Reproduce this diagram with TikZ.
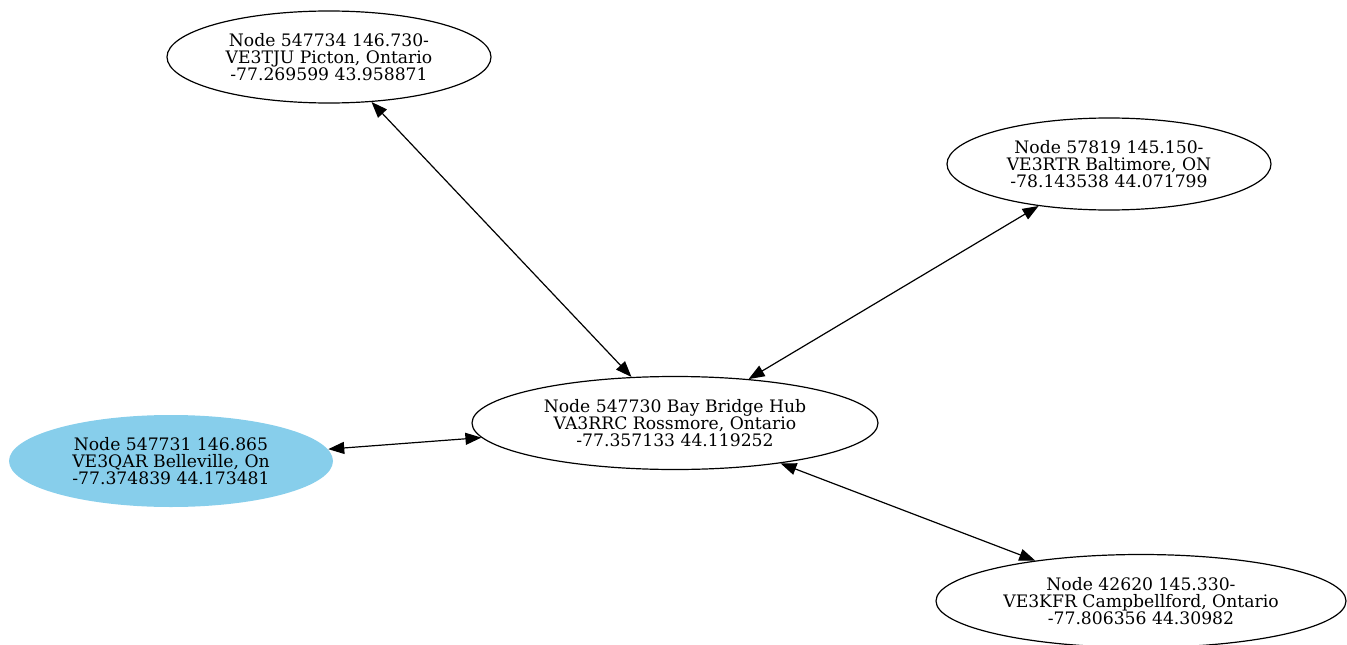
\documentclass[tikz,border=0pt]{standalone}
\usepackage{fontspec}
\setmainfont{DejaVu Serif}
\usepackage{xcolor}
\usetikzlibrary{shapes,arrows.meta}
\definecolor{skyblue}{HTML}{87CEEB}

\begin{document}
\begin{tikzpicture}[<->,>={Triangle[length=16pt,width=12pt]},x=1pt,y=-1pt,
                    line width=1.2pt]
  \tikzstyle{every node}=[ellipse,draw=black,text=black,inner sep=0pt,align=center,
                          font=\fontsize{17.2}{17.3}\selectfont,line width=1.2pt]
  \tikzstyle{small}=[minimum width=324pt,minimum height=92pt]
  \tikzstyle{wide}=[minimum width=408pt,minimum height=93pt]
  \useasboundingbox (0,0) rectangle (1347,645);

  \node[small]                        (picton)    at (329,57)   {Node 547734 146.730-\\VE3TJU Picton, Ontario\\-77.269599 43.958871};
  \node[small]                        (baltimore) at (1109,164) {Node 57819 145.150-\\VE3RTR Baltimore, ON\\-78.143538 44.071799};
  \node[wide, minimum width=406pt]    (hub)       at (675,423)  {Node 547730 Bay Bridge Hub\\VA3RRC Rossmore, Ontario\\-77.357133 44.119252};
  \node[small,fill=skyblue,draw=none] (belle)     at (171,461)  {Node 547731 146.865\\VE3QAR Belleville, On\\-77.374839 44.173481};
  \node[wide, minimum width=410pt]    (campbell)  at (1141,601) {Node 42620 145.330-\\VE3KFR Campbellford, Ontario\\-77.806356 44.30982};

  \path (hub) edge (picton)
              edge (baltimore)
              edge (belle)
              edge (campbell);
\end{tikzpicture}
\end{document}
